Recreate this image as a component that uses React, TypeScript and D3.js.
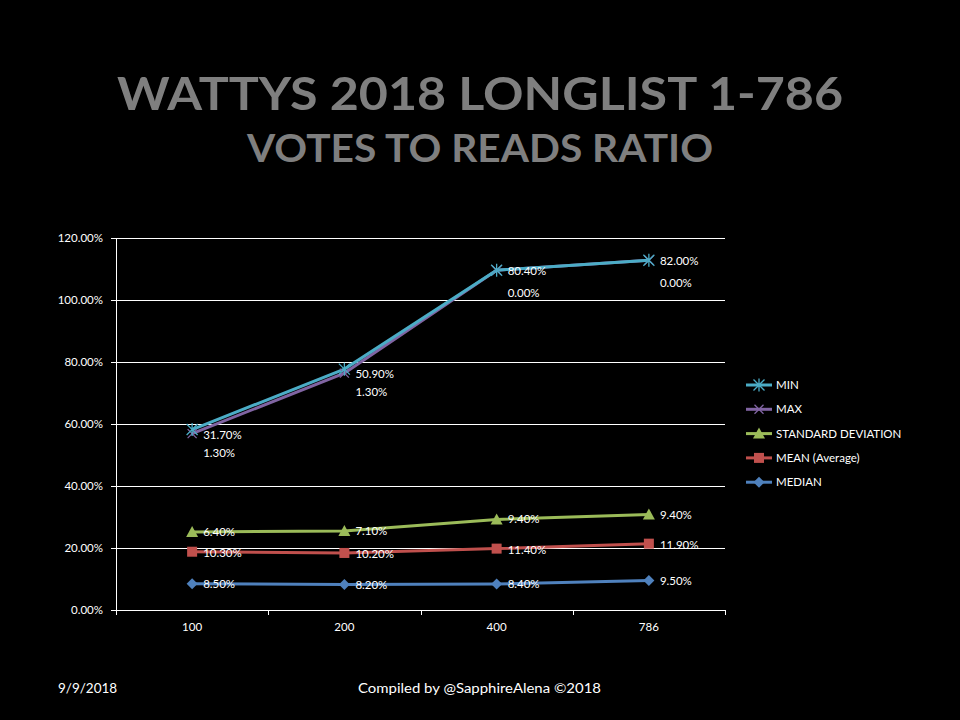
import React from "react";
import * as d3 from "d3";

const categories = ["100", "200", "400", "786"];
const seriesNames = ["MEDIAN", "MEAN (Average)", "STANDARD DEVIATION", "MAX", "MIN"];
const median = [8.5, 8.2, 8.4, 9.5];
const mean = [10.3, 10.2, 11.4, 11.9];
const stdDev = [6.4, 7.1, 9.4, 9.4];
const maxVals = [31.7, 50.9, 80.4, 82.0];
const minVals = [1.3, 1.3, 0.0, 0.0];
const yTicks = [0, 20, 40, 60, 80, 100, 120];

const colors = ["#4F81BD", "#C0504D", "#9BBB59", "#8064A2", "#4BACC6"];
const markers = ["diamond", "square", "triangle", "x", "star"];
const labelDy = [0, 1, 0, 1, 23];

const W = 960, H = 720;
const left = 116, right = 725, top = 238, bottom = 610;
const font = "Lato, 'Open Sans', sans-serif";

function Marker({ type, x, y, color }: { type: string; x: number; y: number; color: string }) {
  if (type === "diamond") {
    const s = 5.5;
    return <path d={`M${x},${y - s}L${x + s},${y}L${x},${y + s}L${x - s},${y}Z`} fill={color} />;
  }
  if (type === "square") {
    return <rect x={x - 5} y={y - 5} width={10} height={10} fill={color} />;
  }
  if (type === "triangle") {
    return <path d={`M${x},${y - 6}L${x + 6},${y + 5}L${x - 6},${y + 5}Z`} fill={color} />;
  }
  if (type === "x") {
    const s = 4.5;
    return (
      <path d={`M${x - s},${y - s}L${x + s},${y + s}M${x - s},${y + s}L${x + s},${y - s}`} stroke={color} strokeWidth={1.3} />
    );
  }
  const s = 5.5;
  return (
    <path
      d={`M${x - s},${y - s}L${x + s},${y + s}M${x - s},${y + s}L${x + s},${y - s}M${x},${y - s - 1}L${x},${y + s + 1}`}
      stroke={color}
      strokeWidth={1.3}
    />
  );
}

export default function App() {
  const raw = [median, mean, stdDev, maxVals, minVals];
  const rows = categories.map((c, i) => {
    const o: any = { cat: c };
    seriesNames.forEach((n, k) => (o[n] = raw[k][i]));
    return o;
  });
  const stacked = d3.stack().keys(seriesNames)(rows);

  const x = d3.scaleBand().domain(categories).range([left, right]).padding(0);
  const cx = (c: string) => (x(c) as number) + x.bandwidth() / 2;
  const y = d3.scaleLinear().domain([0, 120]).range([bottom, top]);
  const line = d3
    .line<any>()
    .x((d) => cx(d.data.cat))
    .y((d) => y(d[1]));

  const boundaries = [...categories.map((c) => x(c) as number), right];
  const legendItems = seriesNames.map((n, k) => k).reverse();
  const crisp = (v: number) => Math.round(v) + 0.5;

  return (
    <svg width={W} height={H} style={{ display: "block", position: "absolute", left: 0, top: 0, background: "#000" }}>
      <rect x={0} y={0} width={W} height={H} fill="#000" />
      <text x={480} y={110} textAnchor="middle" fill="#7F7F7F" fontFamily={font} fontWeight={700} fontSize={46} textLength={726} lengthAdjust="spacingAndGlyphs">
        WATTYS 2018 LONGLIST 1-786
      </text>
      <text x={480} y={162} textAnchor="middle" fill="#7F7F7F" fontFamily={font} fontWeight={700} fontSize={38} textLength={466} lengthAdjust="spacingAndGlyphs">
        VOTES TO READS RATIO
      </text>

      {yTicks.map((t) => (
        <g key={t}>
          <line x1={left - 5} x2={right} y1={crisp(y(t))} y2={crisp(y(t))} stroke="#fff" strokeWidth={1} />
          <text x={103} y={y(t) + 4} textAnchor="end" fill="#fff" fontFamily={font} fontSize={11.5}>
            {t.toFixed(2)}%
          </text>
        </g>
      ))}
      <line x1={crisp(left)} x2={crisp(left)} y1={top} y2={bottom} stroke="#fff" strokeWidth={1} />
      {boundaries.map((b, i) => (
        <line key={i} x1={crisp(b)} x2={crisp(b)} y1={bottom} y2={bottom + 5} stroke="#fff" strokeWidth={1} />
      ))}
      {categories.map((c) => (
        <text key={c} x={cx(c)} y={631} textAnchor="middle" fill="#fff" fontFamily={font} fontSize={11.5}>
          {c}
        </text>
      ))}

      {stacked.map((s, k) => (
        <g key={seriesNames[k]}>
          <path d={line(s as any) as string} fill="none" stroke={colors[k]} strokeWidth={3} />
        </g>
      ))}
      {stacked.map((s, k) => (
        <g key={"m" + k}>
          {s.map((d: any, i: number) => (
            <Marker key={i} type={markers[k]} x={cx(d.data.cat)} y={y(d[1])} color={colors[k]} />
          ))}
        </g>
      ))}
      {stacked.map((s, k) => (
        <g key={"l" + k}>
          {s.map((d: any, i: number) => (
            <text key={i} x={cx(d.data.cat) + 11} y={y(d[1]) + labelDy[k] + 4} fill="#fff" fontFamily={font} fontSize={11.5}>
              {raw[k][i].toFixed(2)}%
            </text>
          ))}
        </g>
      ))}

      {legendItems.map((k, j) => {
        const ly = 385 + j * 24.3;
        return (
          <g key={"lg" + k}>
            <line x1={746} x2={772} y1={ly} y2={ly} stroke={colors[k]} strokeWidth={3} />
            <Marker type={markers[k]} x={759} y={ly} color={colors[k]} />
            <text x={776} y={ly + 4} fill="#fff" fontFamily={font} fontSize={11.5}>
              {seriesNames[k]}
            </text>
          </g>
        );
      })}

      <text x={58} y={693} fill="#fff" fontFamily={font} fontSize={13.5}>
        9/9/2018
      </text>
      <text x={358} y={693} fill="#fff" fontFamily={font} fontSize={13.5} textLength={243} lengthAdjust="spacingAndGlyphs">
        Compiled by @SapphireAlena ©2018
      </text>
    </svg>
  );
}
